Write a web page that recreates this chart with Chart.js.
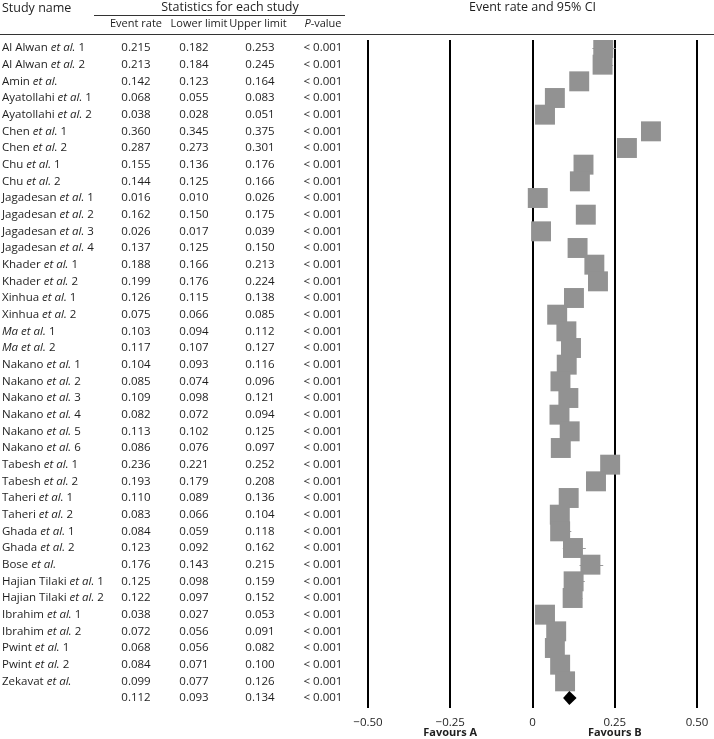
<!DOCTYPE html>
<html>
<head>
<meta charset="utf-8">
<script src="https://cdn.jsdelivr.net/npm/chart.js@4"></script>
<style>
  body { margin: 0; background: #fff; }
</style>
</head>
<body>
<canvas id="forest" width="714" height="739"></canvas>
<script>
// studies (top to bottom)
const studies = [
    "Al Alwan et al. 1", "Al Alwan et al. 2", "Amin et al.", "Ayatollahi et al. 1", "Ayatollahi et al. 2",
    "Chen et al. 1", "Chen et al. 2", "Chu et al. 1", "Chu et al. 2",
    "Jagadesan et al. 1", "Jagadesan et al. 2", "Jagadesan et al. 3", "Jagadesan et al. 4",
    "Khader et al. 1", "Khader et al. 2", "Xinhua et al. 1", "Xinhua et al. 2", "Ma et al. 1", "Ma et al. 2",
    "Nakano et al. 1", "Nakano et al. 2", "Nakano et al. 3", "Nakano et al. 4", "Nakano et al. 5", "Nakano et al. 6",
    "Tabesh et al. 1", "Tabesh et al. 2", "Taheri et al. 1", "Taheri et al. 2", "Ghada et al. 1", "Ghada et al. 2",
    "Bose et al.", "Hajian Tilaki et al. 1", "Hajian Tilaki et al. 2", "Ibrahim et al. 1", "Ibrahim et al. 2",
    "Pwint et al. 1", "Pwint et al. 2", "Zekavat et al."
];
const eventRate = [0.215, 0.213, 0.142, 0.068, 0.038, 0.360, 0.287, 0.155, 0.144, 0.016, 0.162, 0.026, 0.137,
    0.188, 0.199, 0.126, 0.075, 0.103, 0.117, 0.104, 0.085, 0.109, 0.082, 0.113, 0.086,
    0.236, 0.193, 0.110, 0.083, 0.084, 0.123, 0.176, 0.125, 0.122, 0.038, 0.072, 0.068, 0.084, 0.099];
const lowerLimit = [0.182, 0.184, 0.123, 0.055, 0.028, 0.345, 0.273, 0.136, 0.125, 0.010, 0.150, 0.017, 0.125,
    0.166, 0.176, 0.115, 0.066, 0.094, 0.107, 0.093, 0.074, 0.098, 0.072, 0.102, 0.076,
    0.221, 0.179, 0.089, 0.066, 0.059, 0.092, 0.143, 0.098, 0.097, 0.027, 0.056, 0.056, 0.071, 0.077];
const upperLimit = [0.253, 0.245, 0.164, 0.083, 0.051, 0.375, 0.301, 0.176, 0.166, 0.026, 0.175, 0.039, 0.150,
    0.213, 0.224, 0.138, 0.085, 0.112, 0.127, 0.116, 0.096, 0.121, 0.094, 0.125, 0.097,
    0.252, 0.208, 0.136, 0.104, 0.118, 0.162, 0.215, 0.159, 0.152, 0.053, 0.091, 0.082, 0.100, 0.126];
const pValue = "< 0.001";

// pooled estimate
const pooled = [0.112, 0.093, 0.134];

const xTicks = [-0.5, -0.25, 0, 0.25, 0.5];
const favourLabels = ["Favours A", "Favours B"];

const FONT = "'Open Sans', 'DejaVu Sans', sans-serif";
const TEXT = "#1e1e1e";
const SIZE = "11.5px ";

// column centres of the table
const colX = { rate: 136, lower: 194, upper: 260, p: 323 };

function drawName(ctx, name, x, y) {
    const m = name.match(/^(.*?)(et al\.)(.*)$/);
    const parts = m ? [[m[1], m[1].trim() === "Ma"], [m[2], true], [m[3], false]] : [[name, false]];
    ctx.textAlign = "left";
    parts.forEach(([txt, it]) => {
        ctx.font = (it ? "italic " : "") + SIZE + FONT;
        ctx.fillText(txt, x, y);
        x += ctx.measureText(txt).width;
    });
}

const fmt = v => v.toFixed(3);

const tablePlugin = {
    id: "table",
    beforeDatasetsDraw(chart) {
        // confidence interval whiskers
        const ctx = chart.ctx, xs = chart.scales.x, ys = chart.scales.y;
        ctx.save();
        ctx.strokeStyle = "#9a9a9a";
        ctx.lineWidth = 1;
        studies.forEach((s, i) => {
            const y = Math.round(ys.getPixelForValue(i)) + 0.5;
            ctx.beginPath();
            ctx.moveTo(xs.getPixelForValue(lowerLimit[i]), y);
            ctx.lineTo(xs.getPixelForValue(upperLimit[i]), y);
            ctx.stroke();
        });
        ctx.restore();
    },
    afterDraw(chart) {
        const ctx = chart.ctx, xs = chart.scales.x, ys = chart.scales.y;
        ctx.save();
        ctx.fillStyle = TEXT;
        ctx.textBaseline = "middle";

        // headers
        ctx.font = "12.5px " + FONT;
        ctx.textAlign = "left";
        ctx.fillText("Study name", 2, 8);
        ctx.textAlign = "center";
        ctx.fillText("Statistics for each study", 230, 7);
        ctx.fillText("Event rate and 95% CI", (xs.left + xs.right) / 2, 7);
        ctx.font = "11px " + FONT;
        ctx.fillText("Event rate", colX.rate, 24);
        ctx.fillText("Lower limit", 199, 24);
        ctx.fillText("Upper limit", 258, 24);
        ctx.font = "italic 11px " + FONT;
        const pw = ctx.measureText("P").width;
        ctx.font = "11px " + FONT;
        const vw = ctx.measureText("-value").width;
        ctx.textAlign = "left";
        const px = colX.p - (pw + vw) / 2;
        ctx.font = "italic 11px " + FONT;
        ctx.fillText("P", px, 24);
        ctx.font = "11px " + FONT;
        ctx.fillText("-value", px + pw, 24);

        ctx.strokeStyle = "#333";
        ctx.lineWidth = 1;
        ctx.beginPath();
        ctx.moveTo(94, 15.5); ctx.lineTo(345, 15.5);
        ctx.moveTo(0, 34.5); ctx.lineTo(714, 34.5);
        ctx.stroke();

        // rows
        studies.forEach((s, i) => {
            const y = ys.getPixelForValue(i);
            drawName(ctx, s, 2, y);
            ctx.font = SIZE + FONT;
            ctx.textAlign = "center";
            ctx.fillText(fmt(eventRate[i]), colX.rate, y);
            ctx.fillText(fmt(lowerLimit[i]), colX.lower, y);
            ctx.fillText(fmt(upperLimit[i]), colX.upper, y);
            ctx.fillText(pValue, colX.p, y);
        });
        const yp = ys.getPixelForValue(studies.length);
        ctx.fillText(fmt(pooled[0]), colX.rate, yp);
        ctx.fillText(fmt(pooled[1]), colX.lower, yp);
        ctx.fillText(fmt(pooled[2]), colX.upper, yp);
        ctx.fillText(pValue, colX.p, yp);

        // pooled diamond
        const xl = xs.getPixelForValue(pooled[1]), xm = xs.getPixelForValue(pooled[0]), xr = xs.getPixelForValue(pooled[2]);
        ctx.fillStyle = "#000";
        ctx.beginPath();
        ctx.moveTo(xl, yp); ctx.lineTo(xm, yp - 7); ctx.lineTo(xr, yp); ctx.lineTo(xm, yp + 7);
        ctx.closePath();
        ctx.fill();

        // favours labels
        ctx.fillStyle = TEXT;
        ctx.font = "bold 11px " + FONT;
        ctx.textAlign = "center";
        ctx.fillText(favourLabels[0], xs.getPixelForValue(-0.25), 733);
        ctx.fillText(favourLabels[1], xs.getPixelForValue(0.25), 733);
        ctx.restore();
    }
};

new Chart(document.getElementById("forest"), {
    type: "scatter",
    data: {
        datasets: [{
            data: studies.map((s, i) => ({ x: eventRate[i], y: i })),
            pointStyle: "rect",
            pointRadius: 14.1,
            backgroundColor: "#929292",
            borderWidth: 0
        }]
    },
    options: {
        responsive: false,
        devicePixelRatio: 1,
        animation: false,
        events: [],
        layout: { padding: { left: 368, right: 17, top: 40, bottom: 0 } },
        plugins: { legend: { display: false }, tooltip: { enabled: false } },
        scales: {
            x: {
                type: "linear",
                min: xTicks[0],
                max: xTicks[xTicks.length - 1],
                afterBuildTicks: axis => { axis.ticks = xTicks.map(v => ({ value: v })); },
                afterFit: axis => { axis.height = 31; axis.paddingLeft = 0; axis.paddingRight = 0; },
                ticks: {
                    padding: 8,
                    color: TEXT,
                    font: { family: FONT, size: 11.5 },
                    callback: v => v === 0 ? "0" : (v < 0 ? "\u2212" : "") + Math.abs(v).toFixed(2)
                },
                grid: { color: "#000", lineWidth: 2, drawTicks: false },
                border: { display: false }
            },
            y: {
                type: "linear",
                display: false,
                reverse: true,
                min: -0.48,
                max: 39.6
            }
        }
    },
    plugins: [tablePlugin]
});
</script>
</body>
</html>
